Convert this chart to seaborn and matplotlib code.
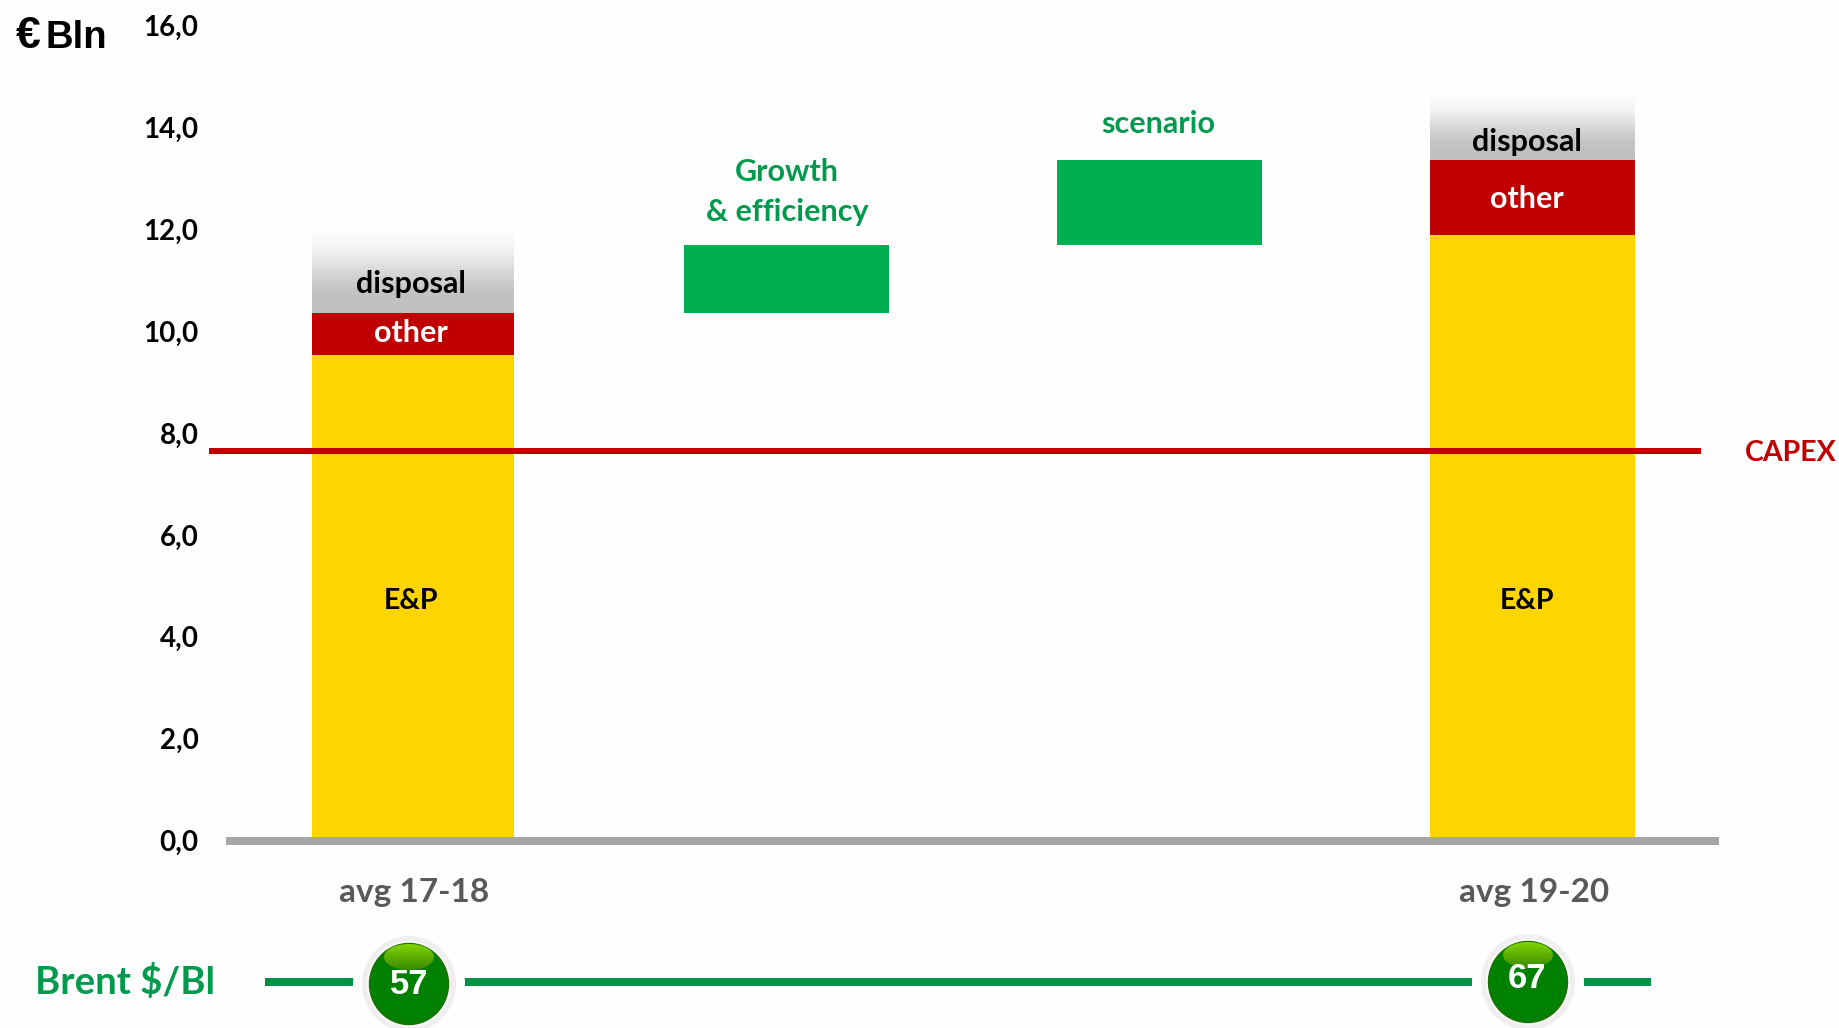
import numpy as np
import pandas as pd
import matplotlib
matplotlib.use("Agg")
import matplotlib.pyplot as plt
from matplotlib.colors import LinearSegmentedColormap
from matplotlib.patches import Ellipse
from matplotlib.transforms import ScaledTranslation
import seaborn as sns

# Capex / cash-flow bridge, EUR billion
categories = ["avg 17-18", "growth", "scenario_step", "avg 19-20"]
tick_labels = ["avg 17-18", "", "", "avg 19-20"]
ep_values = [9.55, 0, 0, 11.89]
other_values = [0.82, 0, 0, 1.47]
disposal_values = [1.70, 0, 0, 1.32]
growth_values = [0, 1.34, 0, 0]
scenario_values = [0, 0, 1.66, 0]
capex_level = 7.66
brent_prices = ["57", "67"]
y_ticks = [0, 2, 4, 6, 8, 10, 12, 14, 16]

W, H = 1839, 1028
BG = "#FEFEFE"
GREEN_BAR = "#00B050"
GREEN_TEXT = "#009A4E"
RED = "#C00000"
YELLOW = "#FFD500"

sns.set_theme(style="white")
plt.rcParams["font.family"] = ["Lato", "DejaVu Sans"]

fig = plt.figure(figsize=(W / 100, H / 100), dpi=100, facecolor=BG)
px = 72 / 100  # points per output pixel

# plot area: y=0 at pixel row 841, y=16 at row 26
left, right, bottom, top = 226.4, 1719, 841, 26
ax = fig.add_axes([left / W, 1 - bottom / H, (right - left) / W, (bottom - top) / H], facecolor="none")

df = pd.DataFrame({
    "category": categories,
    "ep": ep_values,
    "other": other_values,
    "disposal": disposal_values,
    "growth": growth_values,
    "scenario": scenario_values,
})
df["base_other"] = df["ep"]
df["base_disposal"] = df["ep"] + df["other"]
df["base_growth"] = df["ep"].iloc[0] + df["other"].iloc[0]
df["base_scenario"] = df["base_growth"] + df["growth"].iloc[1]

BAR_W = 205 / 373.2


def draw_layer(column, color, base=None):
    """Draw one stacked layer and return the patches it added."""
    before = len(ax.patches)
    kws = {} if base is None else {"bottom": df[base].to_numpy()}
    sns.barplot(data=df, x="category", y=column, color=color, order=categories,
                width=BAR_W, saturation=1, linewidth=0, errorbar=None, ax=ax, **kws)
    return ax.patches[before:]


draw_layer("ep", YELLOW)
draw_layer("other", RED, "base_other")
disposal_bars = draw_layer("disposal", "#BFBFBF", "base_disposal")
draw_layer("growth", GREEN_BAR, "base_growth")
draw_layer("scenario", GREEN_BAR, "base_scenario")

# the first column is a touch narrower than the others
first_w = 202 / 373.2
for patch in ax.patches:
    if patch.get_height() > 0 and abs(patch.get_x() + patch.get_width() / 2) < 0.01:
        patch.set_x(-first_w / 2)
        patch.set_width(first_w)

# disposal layers fade from grey up to white
fade = LinearSegmentedColormap.from_list("fade", ["#BEBEBE", "#C4C4C4", "#DADADA", "#F4F4F4", "#FFFFFF"])
ramp = np.linspace(1, 0, 128).reshape(-1, 1)
for patch in disposal_bars:
    if patch.get_height() <= 0:
        continue
    x0, y0, w, h = patch.get_x(), patch.get_y(), patch.get_width(), patch.get_height()
    ax.imshow(ramp, cmap=fade, vmin=0, vmax=1, extent=(x0, x0 + w, y0, y0 + h), aspect="auto",
              zorder=patch.get_zorder())
    patch.set_visible(False)

ax.set_xlim(-0.5, 3.5)
ax.set_ylim(0, 16)
ax.set_xlabel("")
ax.set_ylabel("")
ax.set_yticks(y_ticks)
ax.set_yticklabels([f"{v:.1f}".replace(".", ",") for v in y_ticks], fontsize=20, fontweight="bold", color="black")
ax.set_xticks(range(len(tick_labels)))
ax.set_xticklabels(tick_labels, fontsize=24, fontweight="bold", color="#595959")
ax.tick_params(axis="y", length=0, pad=28 * px)
ax.tick_params(axis="x", length=0, pad=37 * px)
lift = ScaledTranslation(0, 0.5 / 100, fig.dpi_scale_trans)
for tick_text in ax.get_yticklabels():
    tick_text.set_transform(tick_text.get_transform() + lift)
for tick_text in ax.get_xticklabels():
    tick_text.set_transform(tick_text.get_transform() + ScaledTranslation(1.5 / 100, 0, fig.dpi_scale_trans))
sns.despine(ax=ax, left=True, top=True, right=True)
ax.spines["bottom"].set_color("#A6A6A6")
ax.spines["bottom"].set_linewidth(8 * px)
ax.spines["bottom"].set_capstyle("butt")
ax.spines["bottom"].set_zorder(5)

# CAPEX reference line
ax.plot([(209 - left) / 373.2 - 0.5, (1701 - left) / 373.2 - 0.5], [capex_level, capex_level],
        color=RED, lw=6 * px, solid_capstyle="butt", zorder=6, clip_on=False)

# annotation layer laid out in output pixels
ov = fig.add_axes([0, 0, 1, 1], facecolor="none")
ov.set_xlim(0, W)
ov.set_ylim(H, 0)
ov.axis("off")


def label(x, y, s, size, color="black", weight="bold", **kw):
    ov.text(x, y, s, fontsize=size, color=color, fontweight=weight, ha="center", va="center", **kw)


label(410.5, 284, "disposal", 22)
label(410.5, 333, "other", 22, "white")
label(411, 601, "E&P", 20.5)
label(1527, 142, "disposal", 22)
label(1527, 199, "other", 22, "white")
label(1527, 601, "E&P", 20.5)
label(787, 172, "Growth", 22, GREEN_TEXT)
label(787, 212, "& efficiency", 22, GREEN_TEXT)
label(1158, 124, "scenario", 22, GREEN_TEXT)
label(1791, 453, "CAPEX", 20.5, RED)
label(125, 982, "Brent $/Bl", 27.5, GREEN_TEXT)
ov.text(16, 48, "€", fontsize=32, color="black", fontweight="bold", family="Liberation Sans", ha="left", va="baseline")
ov.text(46, 48, "Bln", fontsize=27.5, color="black", fontweight="bold", family="Liberation Sans", ha="left", va="baseline")

# Brent strip with price badges
ov.plot([265, 1651], [982, 982], color="#009245", lw=8 * px, solid_capstyle="butt", zorder=1)
hi_cmap = LinearSegmentedColormap.from_list("hi", ["#80D400", "#3A8A00"])
badges = [(409, 984, 409, 985), (1528, 982, 1527, 979)]
for (cx, cy, tx, ty), price in zip(badges, brent_prices):
    ov.add_patch(Ellipse((cx, cy), 112, 112, fc=BG, ec="none", zorder=2))
    ov.add_patch(Ellipse((cx, cy), 94, 96, fc="#EFEFEF", ec="none", zorder=3))
    ov.add_patch(Ellipse((cx, cy), 84, 86, fc="#FAFAFA", ec="none", zorder=3))
    ov.add_patch(Ellipse((cx, cy), 79, 81, fc="#008000", ec="#1F6F00", lw=1, zorder=4))
    gloss = Ellipse((cx, cy - 27), 50, 26, fc="none", ec="none", zorder=5)
    ov.add_patch(gloss)
    im = ov.imshow(np.linspace(0, 1, 64).reshape(-1, 1), cmap=hi_cmap, aspect="auto",
                   extent=(cx - 25, cx + 25, cy - 14, cy - 40), zorder=5)
    im.set_clip_path(gloss)
    ov.text(tx, ty, price, color="white", fontsize=25, fontweight="bold", family="Liberation Sans",
            ha="center", va="center", zorder=6)
ov.set_xlim(0, W)
ov.set_ylim(H, 0)

fig.savefig("out.png", dpi=100, facecolor=BG)
